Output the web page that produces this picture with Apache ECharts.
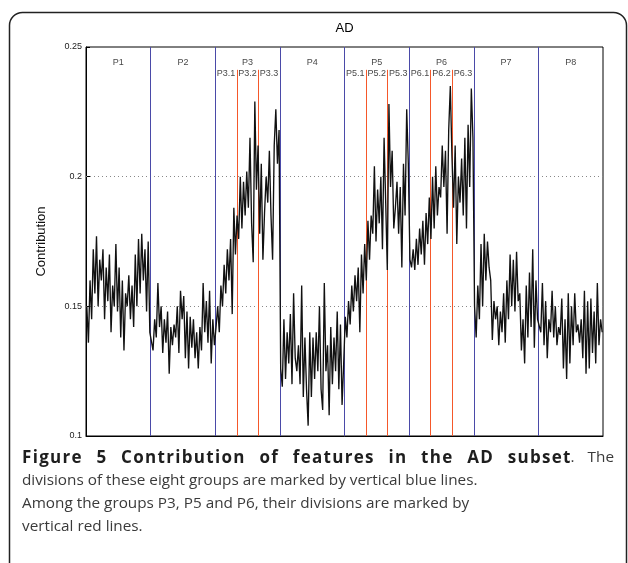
<!DOCTYPE html>
<html><head><meta charset="utf-8">
<script src="https://cdn.jsdelivr.net/npm/echarts@6/dist/echarts.min.js"></script>
<style>html,body{margin:0;padding:0;background:#fff}#c{width:628px;height:563px}</style>
</head><body><div id="c"></div>
<script>
// ---- data ----
var groupNames = ['P1','P2','P3','P4','P5','P6','P7','P8'];
var subGroups = ['P3','P5','P6'];
var subCount = 3;
var yTicks = [0.1, 0.15, 0.2, 0.25];
var gridValues = [0.15, 0.2];
var p1 = [0.150,0.136,0.160,0.145,0.172,0.155,0.177,0.150,0.168,0.160,0.172,0.145,0.165,0.152,0.170,0.140,0.158,0.150,0.174,0.148,0.165,0.138,0.160,0.133,0.155,0.150,0.162,0.145,0.158,0.142,0.170,0.150,0.176,0.155,0.178,0.160,0.172,0.148,0.175,0.140];
var p2 = [0.140,0.133,0.145,0.138,0.159,0.142,0.150,0.132,0.145,0.136,0.148,0.124,0.142,0.135,0.143,0.138,0.150,0.132,0.156,0.145,0.154,0.130,0.148,0.126,0.146,0.134,0.145,0.130,0.140,0.126,0.142,0.133,0.159,0.140,0.152,0.136,0.156,0.128,0.145,0.135];
var p3 = [0.142,0.150,0.140,0.158,0.150,0.166,0.155,0.172,0.160,0.176,0.147,0.188,0.170,0.185,0.176,0.200,0.180,0.198,0.185,0.202,0.188,0.215,0.182,0.167,0.229,0.195,0.212,0.178,0.205,0.168,0.186,0.200,0.190,0.210,0.185,0.168,0.212,0.226,0.205,0.218];
var p4 = [0.126,0.119,0.145,0.122,0.140,0.128,0.147,0.120,0.155,0.130,0.125,0.135,0.120,0.158,0.115,0.138,0.118,0.104,0.140,0.115,0.138,0.122,0.140,0.125,0.150,0.118,0.110,0.159,0.125,0.135,0.108,0.142,0.120,0.138,0.125,0.148,0.118,0.143,0.112,0.128];
var p5 = [0.146,0.138,0.152,0.143,0.158,0.148,0.162,0.152,0.165,0.140,0.170,0.155,0.174,0.160,0.183,0.168,0.185,0.178,0.204,0.175,0.195,0.182,0.200,0.172,0.215,0.190,0.164,0.228,0.196,0.210,0.180,0.188,0.198,0.178,0.196,0.165,0.205,0.185,0.226,0.205];
var p6 = [0.168,0.165,0.172,0.164,0.176,0.166,0.180,0.170,0.183,0.166,0.186,0.174,0.192,0.176,0.200,0.180,0.204,0.185,0.196,0.192,0.212,0.196,0.210,0.178,0.218,0.235,0.208,0.188,0.212,0.174,0.200,0.190,0.207,0.185,0.215,0.180,0.220,0.196,0.234,0.215];
var p7 = [0.150,0.138,0.158,0.145,0.174,0.150,0.178,0.160,0.175,0.165,0.160,0.137,0.152,0.145,0.150,0.135,0.148,0.140,0.155,0.136,0.160,0.145,0.170,0.150,0.168,0.148,0.171,0.152,0.155,0.133,0.145,0.128,0.158,0.138,0.163,0.142,0.172,0.134,0.160,0.145];
var p8 = [0.145,0.140,0.159,0.135,0.152,0.130,0.145,0.140,0.156,0.138,0.150,0.135,0.142,0.139,0.153,0.126,0.145,0.122,0.155,0.128,0.150,0.135,0.155,0.140,0.143,0.136,0.145,0.130,0.156,0.124,0.152,0.126,0.153,0.132,0.148,0.128,0.159,0.135,0.145,0.140];
var captionBold = 'Figure 5 Contribution of features in the AD subset';
var captionTail = '. The';
var captionRest = ['divisions of these eight groups are marked by vertical blue lines.',
                   'Among the groups P3, P5 and P6, their divisions are marked by',
                   'vertical red lines.'];

// ---- build ----
var groups = [p1,p2,p3,p4,p5,p6,p7,p8];
var G = p1.length;
var lineData = [];
groups.forEach(function(g, gi){ g.forEach(function(v, i){ lineData.push([gi*G + i + 0.5, v]); }); });
var total = G * groups.length;
var yMin = 0.1, yMax = 0.25;
var labelY = 0.2442, subLabelY = 0.2398, redTop = 0.2412;

var blueLines = [];
for (var k = 1; k < groups.length; k++) blueLines.push({xAxis: k*G});
var redLines = [], labelPts = [];
groupNames.forEach(function(n, gi){
  labelPts.push({value:[gi*G + G/2, labelY], name:n});
  if (subGroups.indexOf(n) >= 0) {
    for (var s = 0; s < subCount; s++) {
      var x0 = gi*G + s*G/subCount;
      labelPts.push({value:[x0 + G/subCount/2, subLabelY], name:n + '.' + (s+1)});
      if (s > 0) redLines.push([{coord:[x0, yMin]},{coord:[x0, redTop]}]);
    }
  }
});

// caption: first line justified (per-character layout; bold letters slightly spaced, word gaps widened)
var CF = 'Open Sans', CS = 15.3, CSB = 17;
var capLeft = 22, capRight = 614;
var ctx = document.createElement('canvas').getContext('2d');
function w(t, bold){ ctx.font = (bold?'bold ' + CSB:CS) + 'px "' + CF + '"'; return ctx.measureText(t).width; }
var chars = [];
captionBold.split('').forEach(function(c){ chars.push({c:c, b:true}); });
captionTail.split('').forEach(function(c){ chars.push({c:c, b:false}); });
var cw = chars.map(function(ch){ return w(ch.c, ch.b); });
var wt = chars.map(function(ch, i){
  if (i === chars.length-1) return 0;
  if (ch.c === ' ') return 7;
  if (!ch.b) return 0;
  return chars[i+1].b ? 1 : 0;
});
var sumW = cw.reduce(function(a,b){return a+b;}, 0);
var sumWt = wt.reduce(function(a,b){return a+b;}, 0);
var unit = (capRight - capLeft - sumW) / sumWt;
var capGraphics = [];
var cx = capLeft;
chars.forEach(function(ch, i){
  if (ch.c !== ' ') capGraphics.push({type:'text', x:cx, y:458, style:{text:ch.c, textVerticalAlign:'middle',
    fontFamily:CF, fontWeight:ch.b?'bold':'normal', fontSize:ch.b?CSB:CS, fill:ch.b?'#1e1e1e':'#3a3a3a'}});
  cx += cw[i] + unit * wt[i];
});
captionRest.forEach(function(line, i){
  capGraphics.push({type:'text', x:capLeft, y:480.5 + i*23, style:{text:line, fontFamily:CF, fontSize:CS, fill:'#3a3a3a', textVerticalAlign:'middle'}});
});

var chart = echarts.init(document.getElementById('c'), null, {renderer:'canvas'});
var F = 'Liberation Sans, Arial, sans-serif';
chart.setOption({
  animation:false,
  backgroundColor:'#fff',
  grid:{left:86, right:25, top:47, bottom:127, show:true, borderColor:'#000', borderWidth:1, backgroundColor:'transparent'},
  xAxis:{type:'value', min:0, max:total, axisLine:{show:true, lineStyle:{color:'#000'}}, axisTick:{show:false}, axisLabel:{show:false}, splitLine:{show:false}},
  yAxis:{type:'value', min:yMin, max:yMax, interval:0.05,
    name:'Contribution', nameLocation:'middle', nameGap:38, nameTextStyle:{fontFamily:F, fontSize:13, color:'#111'},
    axisLine:{show:true, lineStyle:{color:'#000'}},
    axisTick:{show:true, inside:true, length:4, lineStyle:{color:'#000'}},
    axisLabel:{fontFamily:F, fontSize:9, color:'#222', margin:4, formatter:function(v){return String(+v.toFixed(2));}},
    splitLine:{show:false}},
  graphic:[
    {type:'rect', shape:{x:9.5, y:12.5, width:617, height:700, r:13}, style:{fill:'none', stroke:'#222', lineWidth:1.5}, silent:true},
    {type:'text', x:344.5, y:28, style:{text:'AD', fontFamily:F, fontSize:13, fill:'#000', textAlign:'center', textVerticalAlign:'middle'}}
  ].concat(capGraphics),
  series:[
    {type:'line', data:[], silent:true,
      markLine:{silent:true, symbol:'none', label:{show:false}, lineStyle:{color:'#888', type:[1,3], width:1},
        data:gridValues.map(function(v){return {yAxis:v};})}},
    {type:'line', data:lineData, showSymbol:false, symbol:'none', lineStyle:{color:'#111', width:1.35}, z:5},
    {type:'line', data:[], silent:true, itemStyle:{color:'#4a4aa8'},
      markLine:{silent:true, symbol:'none', label:{show:false}, lineStyle:{color:'#4a4aa8', type:'solid', width:1}, data:blueLines}, z:6},
    {type:'line', data:[], silent:true, itemStyle:{color:'#f5582a'},
      markLine:{silent:true, symbol:'none', label:{show:false}, lineStyle:{color:'#f5582a', type:'solid', width:1}, data:redLines}, z:6},
    {type:'scatter', data:labelPts, symbolSize:0, silent:true, z:7,
      label:{show:true, position:'inside', formatter:'{b}', fontFamily:F, fontSize:9, color:'#111'}}
  ]
});
</script></body></html>
